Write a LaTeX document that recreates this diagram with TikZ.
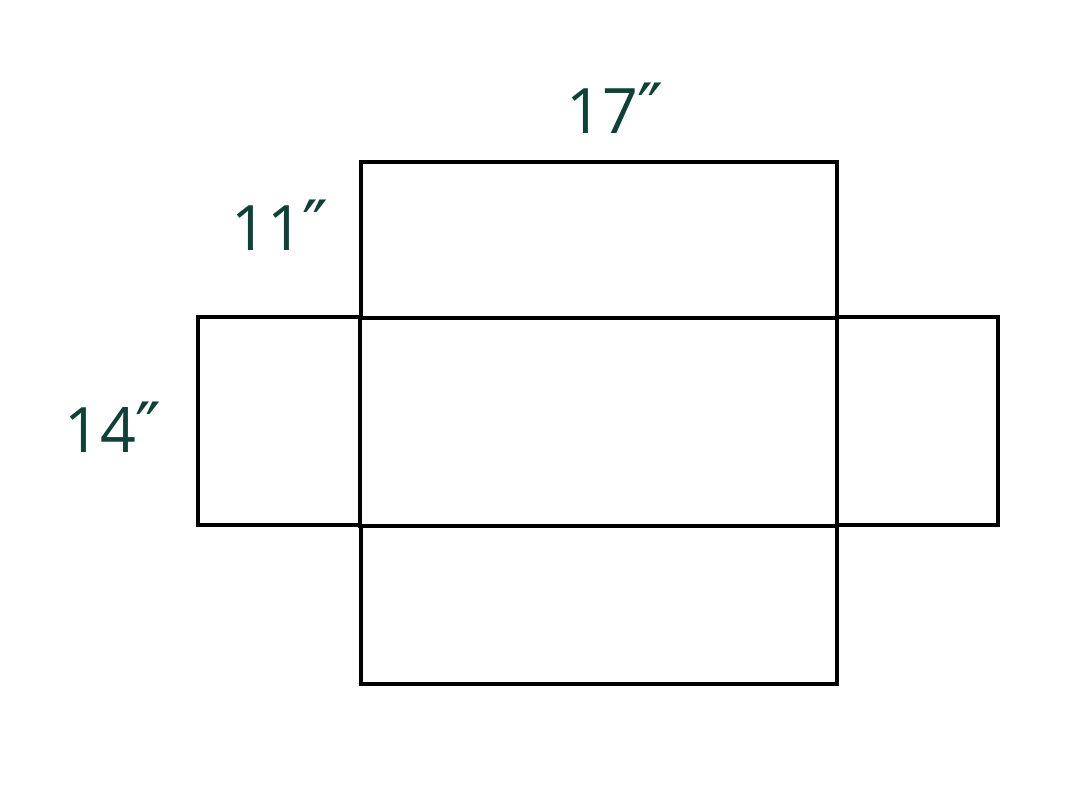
\documentclass[tikz,border=0pt]{standalone}
\usepackage{fontspec}
\setmainfont{Open Sans}
\newfontfamily\primefont{DejaVu Sans}
\definecolor{labelgreen}{RGB}{16,64,56}
\newcommand{\dprime}{{\primefont\fontsize{52}{60}\selectfont ″}}
\tikzset{
  flap/.style={draw=black, line width=2.6pt},
  dimlabel/.style={text=labelgreen, font=\fontsize{47}{56}\selectfont, inner sep=0pt, anchor=base}
}
\begin{document}
\begin{tikzpicture}[x=0.75pt,y=-0.75pt]
\useasboundingbox (0,0) rectangle (1067,800);
\draw[flap] (361,162) rectangle (837,318);
\draw[flap] (198,317) rectangle (360,525);
\draw[flap] (837,317) rectangle (998,525);
\draw[flap] (361,526) rectangle (837,684);
\draw[flap, line width=3pt] (360,318) rectangle (837,526);
\node[dimlabel] (w) at (615,133) {17\dprime};
\node[dimlabel] (h) at (280,250) {11\dprime};
\node[dimlabel] (d) at (113,452) {14\dprime};
\end{tikzpicture}
\end{document}
